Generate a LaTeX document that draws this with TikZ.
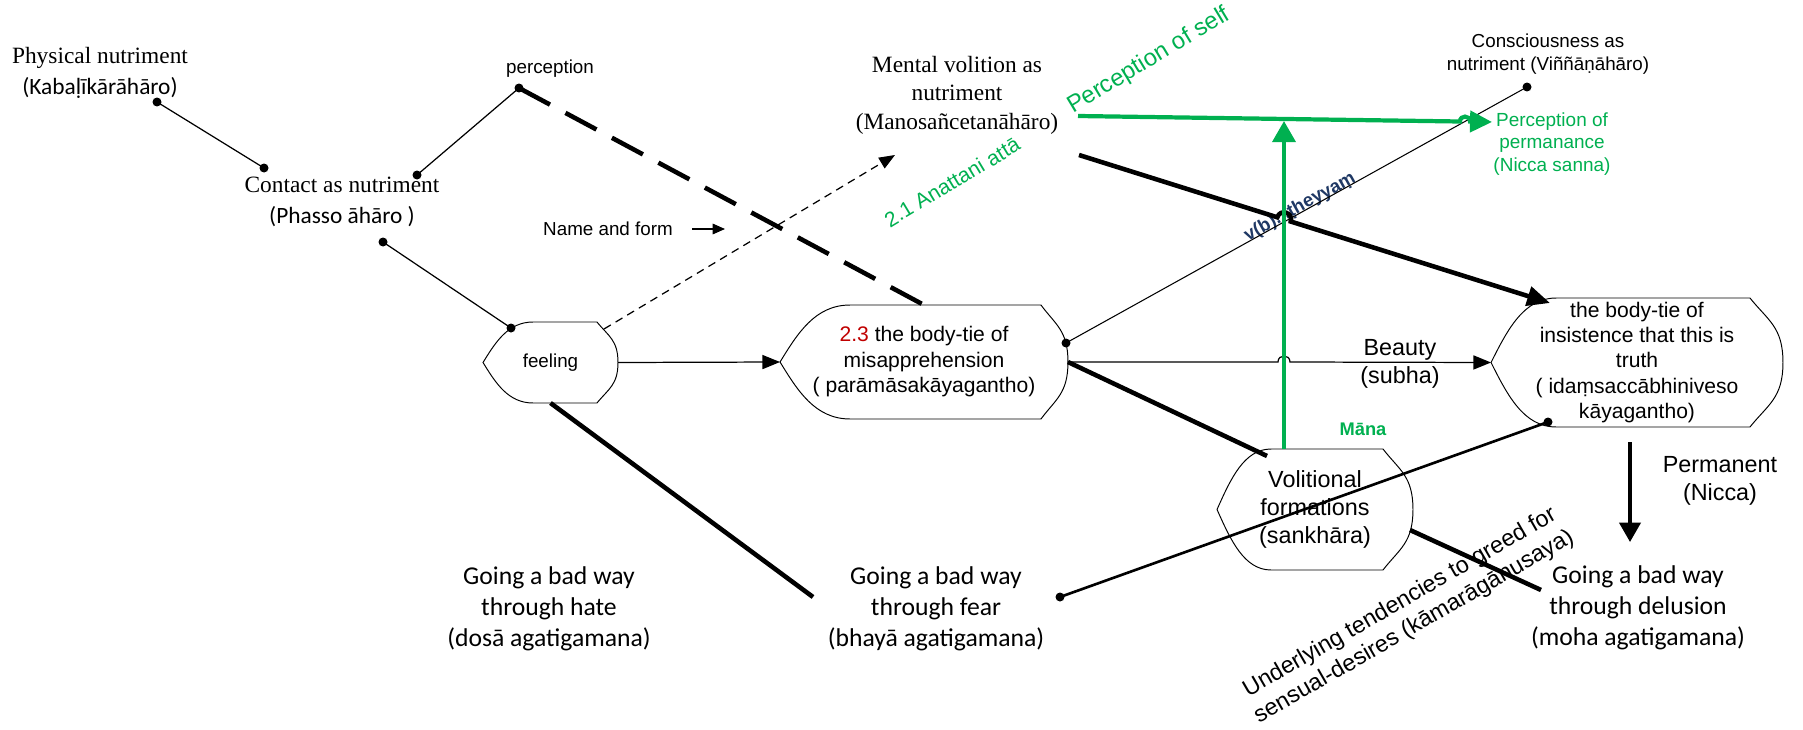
\documentclass[tikz,border=0pt]{standalone}
\usepackage{fontspec}
\setmainfont{Liberation Serif}
\setsansfont{Liberation Sans}
\newfontfamily\calfont{Carlito}
\usetikzlibrary{arrows.meta}
\definecolor{anagreen}{RGB}{0,176,80}
\definecolor{numred}{RGB}{192,0,0}
\definecolor{vbnavy}{RGB}{31,56,100}

\newcommand\dispshape[4]{%
  \draw[outline] ([xshift=#2*0.02cm]#1.north west) -- ([xshift=-#3*0.02cm]#1.north east)
    .. controls +(0.55*#3,0.35*#4) and +(0,-0.55*#4) .. (#1.east)
    .. controls +(0,0.55*#4) and +(0.55*#3,-0.35*#4) .. ([xshift=-#3*0.02cm]#1.south east)
    -- ([xshift=#2*0.02cm]#1.south west)
    .. controls +(-0.5*#2,0) and +(0.25*#2,0.5*#4) .. (#1.west)
    .. controls +(0.25*#2,-0.5*#4) and +(-0.5*#2,0) .. ([xshift=#2*0.02cm]#1.north west) -- cycle;}

\begin{document}
\begin{tikzpicture}[x=0.02cm,y=-0.02cm,
  every node/.style={inner sep=0pt, outer sep=0pt, align=center},
  rmtxt/.style={font=\rmfamily\fontsize{13.3}{17.6}\selectfont},
  caltxt/.style={font=\calfont\fontsize{14.6}{17.6}\selectfont},
  smalltxt/.style={font=\sffamily\fontsize{10.7}{13}\selectfont},
  midtxt/.style={font=\sffamily\fontsize{12}{14.4}\selectfont},
  bigtxt/.style={font=\sffamily\fontsize{13.3}{16}\selectfont},
  outline/.style={draw, line width=0.55pt},
  thinline/.style={line width=0.7pt},
  heavy/.style={line width=2.6pt},
  grnline/.style={draw=anagreen, line width=2.4pt}]

\useasboundingbox (0,0) rectangle (1803,730);

\node[rmtxt] (phys) at (100,73) {Physical nutriment\\{\calfont(Kabaḷīkārāhāro)}};
\node[rmtxt] (contact) at (342,202) {Contact as nutriment\\{\calfont(Phasso āhāro )}};
\node[smalltxt] (percep) at (550,69) {perception};
\node[font=\rmfamily\fontsize{13.3}{16.2}\selectfont] (mental) at (957,95) {Mental volition as\\nutriment\\(Manosañcetanāhāro)};
\node[smalltxt] (consc) at (1548,54) {Consciousness as\\nutriment (Viññāṇāhāro)};
\node[font=\sffamily\fontsize{10.8}{12.6}\selectfont, text=anagreen] (nicca) at (1552,144) {Perception of\\permanance\\(Nicca sanna)};
\node[smalltxt] (nameform) at (608,229) {Name and form};
\node[font=\sffamily\fontsize{13.6}{16}\selectfont, text=anagreen, rotate=31] (pself) at (1149,61) {Perception of self};
\node[font=\sffamily\fontsize{12}{14}\selectfont, text=anagreen, rotate=31] (anatta) at (952,182) {2.1 Anattani attā};
\node[font=\sffamily\bfseries\fontsize{10.5}{12}\selectfont, text=vbnavy, rotate=29] (vb) at (1300,207) {v(b)...ṭheyyaṃ};

\node[smalltxt, minimum width=2.7cm, minimum height=1.62cm] (feel) at (550.5,362.5) {feeling};
\node[midtxt, minimum width=5.76cm, minimum height=2.28cm, font=\sffamily\fontsize{12}{14.5}\selectfont] (misapp) at (924,362) {{\color{numred}2.3} the body-tie of\\misapprehension\\( parāmāsakāyagantho)};
\node[midtxt, minimum width=5.84cm, minimum height=2.58cm] (insist) at (1637,362.5) {the body-tie of\\insistence that this is\\truth\\( idaṃsaccābhiniveso\\kāyagantho)};
\node[bigtxt, minimum width=3.92cm, minimum height=2.42cm] (volit) at (1315,509.5) {Volitional\\formations\\(sankhāra)};
\node[bigtxt] (beauty) at (1400,364) {Beauty\\(subha)};
\node[font=\sffamily\bfseries\fontsize{10.4}{12}\selectfont, text=anagreen] (mana) at (1363,429) {Māna};
\node[bigtxt] (perm) at (1720,481) {Permanent\\(Nicca)};
\node[caltxt] (hate) at (549,609) {Going a bad way\\through hate\\(dosā agatigamana)};
\node[caltxt] (fear) at (936,609) {Going a bad way\\through fear\\(bhayā agatigamana)};
\node[caltxt] (delus) at (1638,608) {Going a bad way\\through delusion\\(moha agatigamana)};
\node[bigtxt, rotate=30] (greed) at (1407,615) {Underlying tendencies to greed for\\sensual-desires (kāmarāgānusaya)};

\dispshape{feel}{50}{21}{40.5}
\dispshape{misapp}{70}{27}{57}
\dispshape{insist}{65}{33}{64.5}
\dispshape{volit}{54}{30}{60.5}

\coordinate (kabdot) at (157,102);
\coordinate (condota) at (264,168);
\coordinate (condotb) at (417,175);
\coordinate (percdot) at (519,88);
\coordinate (condotc) at (383,242);
\coordinate (feeldot) at (511,328);
\coordinate (feelne) at (604,329);
\coordinate (nametip) at (895,155);
\coordinate (nfa) at (692,229);
\coordinate (nfb) at (725,229);
\coordinate (misdot) at (1066,343);
\coordinate (consdot) at (1527,87);
\coordinate (mentse) at (1079,155);
\coordinate (insnw) at (1550,303);
\coordinate (volnw) at (1267,456);
\coordinate (voltop) at (1284,449);
\coordinate (selftip) at (1284,121);
\coordinate (selfstart) at (1078,116);
\coordinate (nictip) at (1492,122);
\coordinate (insdot) at (1548,422);
\coordinate (feardot) at (1060,597);
\coordinate (hateend) at (813,597);
\coordinate (voleast) at (1410,530);
\coordinate (delusend) at (1541,590);
\coordinate (permtop) at (1630,442);
\coordinate (permtip) at (1630,542);

\draw[thinline] (kabdot) -- (condota);
\draw[thinline] (condotb) -- (percdot);
\draw[thinline] (condotc) -- (feeldot);
\draw[heavy, dash pattern=on 20pt off 10pt] (percdot) -- (misapp.north);
\draw[thinline, dash pattern=on 4.5pt off 3.2pt, -{Triangle[length=9pt,width=7pt]}] (feelne) -- (nametip);
\draw[thinline, -{Triangle[length=7pt,width=6pt]}] (nfa) -- (nfb);
\draw[thinline, -{Triangle[length=10pt,width=8pt]}] (feel.east) -- (misapp.west);
\draw[line width=0.6pt] (misdot) -- (consdot);
\draw[thinline, -{Triangle[length=10pt,width=8pt]}] (misapp.east) -- (1278,362) .. controls (1278,354) and (1290,354) .. (1290,362) -- (insist.west);
\draw[heavy] (misapp.east) -- (volnw);
\draw[heavy, -{Triangle[length=13pt,width=11pt]}] (mentse) -- (1277.3,217.3) .. controls (1280.1,208.4) and (1293.5,212.6) .. (1290.7,221.5) -- (insnw);
\draw[grnline, -{Triangle[length=12pt,width=13pt]}] (voltop) -- (selftip);
\draw[grnline, -{Triangle[length=12.5pt,width=12pt]}] (selfstart) -- (1460,121.5) .. controls (1460,115) and (1470,115) .. (1470,121.5) -- (nictip);
\draw[line width=1.5pt] (feardot) -- (insdot);
\draw[heavy] (feel.south) -- (hateend);
\draw[heavy] (voleast) -- (delusend);
\draw[line width=2pt, -{Triangle[length=11pt,width=12pt]}] (permtop) -- (permtip);

\fill (kabdot) circle (0.09cm);
\fill (condota) circle (0.09cm);
\fill (condotb) circle (0.09cm);
\fill (percdot) circle (0.09cm);
\fill (condotc) circle (0.09cm);
\fill (feeldot) circle (0.09cm);
\fill (misdot) circle (0.09cm);
\fill (consdot) circle (0.09cm);
\fill (insdot) circle (0.09cm);
\fill (feardot) circle (0.09cm);
\end{tikzpicture}
\end{document}
